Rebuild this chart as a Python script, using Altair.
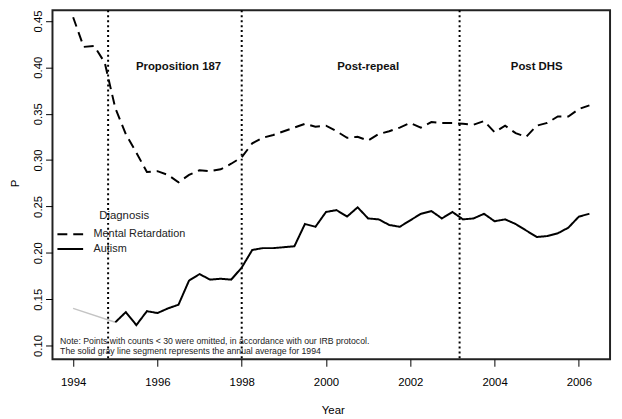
import altair as alt
import pandas as pd

# ---- data ----
mr_years = [1994.00, 1994.25, 1994.50, 1994.75, 1995.00, 1995.25, 1995.50, 1995.75,
            1996.00, 1996.25, 1996.50, 1996.75, 1997.00, 1997.25, 1997.50, 1997.75,
            1998.00, 1998.25, 1998.50, 1998.75, 1999.00, 1999.25, 1999.50, 1999.75,
            2000.00, 2000.25, 2000.50, 2000.75, 2001.00, 2001.25, 2001.50, 2001.75,
            2002.00, 2002.25, 2002.50, 2002.75, 2003.00, 2003.25, 2003.50, 2003.75,
            2004.00, 2004.25, 2004.50, 2004.75, 2005.00, 2005.25, 2005.50, 2005.75,
            2006.00, 2006.25]
mr_values = [0.454, 0.422, 0.423, 0.405, 0.356, 0.328, 0.308, 0.287,
             0.288, 0.284, 0.276, 0.284, 0.289, 0.288, 0.290, 0.296,
             0.303, 0.318, 0.324, 0.327, 0.331, 0.335, 0.339, 0.336,
             0.337, 0.331, 0.324, 0.325, 0.321, 0.328, 0.331, 0.335,
             0.340, 0.335, 0.341, 0.340, 0.340, 0.339, 0.338, 0.342,
             0.330, 0.337, 0.329, 0.325, 0.337, 0.340, 0.347, 0.347,
             0.355, 0.359]

aut_years = [1995.00, 1995.25, 1995.50, 1995.75,
             1996.00, 1996.25, 1996.50, 1996.75, 1997.00, 1997.25, 1997.50, 1997.75,
             1998.00, 1998.25, 1998.50, 1998.75, 1999.00, 1999.25, 1999.50, 1999.75,
             2000.00, 2000.25, 2000.50, 2000.75, 2001.00, 2001.25, 2001.50, 2001.75,
             2002.00, 2002.25, 2002.50, 2002.75, 2003.00, 2003.25, 2003.50, 2003.75,
             2004.00, 2004.25, 2004.50, 2004.75, 2005.00, 2005.25, 2005.50, 2005.75,
             2006.00, 2006.25]
aut_values = [0.125, 0.136, 0.122, 0.137,
              0.135, 0.140, 0.144, 0.170, 0.177, 0.171, 0.172, 0.171,
              0.184, 0.203, 0.205, 0.205, 0.206, 0.207, 0.231, 0.228,
              0.244, 0.246, 0.239, 0.249, 0.237, 0.236, 0.230, 0.228,
              0.235, 0.242, 0.245, 0.237, 0.244, 0.236, 0.237, 0.242,
              0.234, 0.236, 0.231, 0.224, 0.217, 0.218, 0.221, 0.227,
              0.239, 0.242]

gray_years = [1994.0, 1995.0]
gray_values = [0.140, 0.125]

event_years = [1994.83, 1998.0, 2003.17]

period_labels = ["Proposition 187", "Post-repeal", "Post DHS"]
period_x = [1996.5, 2001.0, 2005.0]
period_y = [0.40, 0.40, 0.40]

note_lines = ["Note: Points with counts < 30 were omitted, in accordance with our IRB protocol.",
              "The solid gray line segment represents the annual average for 1994"]
note_x = [1993.69, 1993.69]
note_y = [0.1046, 0.0944]

diagnoses = ["Mental Retardation", "Autism"]
x_ticks = [1994, 1996, 1998, 2000, 2002, 2004, 2006]
y_ticks = [0.10, 0.15, 0.20, 0.25, 0.30, 0.35, 0.40, 0.45]

# ---- tables ----
lines_df = pd.concat([
    pd.DataFrame({"year": mr_years, "P": mr_values, "Diagnosis": diagnoses[0]}),
    pd.DataFrame({"year": aut_years, "P": aut_values, "Diagnosis": diagnoses[1]}),
])
gray_df = pd.DataFrame({"year": gray_years, "P": gray_values})
events_df = pd.DataFrame({"year": event_years})
periods_df = pd.DataFrame({"year": period_x, "P": period_y, "label": period_labels})
note_df = pd.DataFrame({"year": note_x, "P": note_y, "text": note_lines})

FONT = "Liberation Sans"
xscale = alt.Scale(domain=[1993.51, 2006.74], nice=False, zero=False)
yscale = alt.Scale(domain=[0.0851, 0.4614], nice=False, zero=False)

x_axis = alt.Axis(values=x_ticks, format="d", title="Year",
                  tickSize=7, labelPadding=19, labelBaseline="alphabetic",
                  titleX=283.5, titleY=55, titleAlign="center",
                  titleBaseline="alphabetic", titleAnchor="start")
y_axis = alt.Axis(values=y_ticks, format=".2f", title="P",
                  tickSize=7, labelPadding=4, labelAngle=270,
                  labelAlign="center", labelBaseline="alphabetic",
                  titleAngle=270, titleX=-34, titleY=174.5,
                  titleAlign="center", titleBaseline="alphabetic",
                  titleAnchor="start")

X = alt.X("year:Q", scale=xscale, axis=x_axis, title="Year")
Y = alt.Y("P:Q", scale=yscale, axis=y_axis, title="P")

lines = alt.Chart(lines_df).mark_line(color="black", strokeWidth=2).encode(
    x=X, y=Y,
    strokeDash=alt.StrokeDash(
        "Diagnosis:N",
        scale=alt.Scale(domain=diagnoses, range=[[10, 6], [1, 0]]),
        legend=alt.Legend(title="Diagnosis", orient="none", legendX=10.5, legendY=202.4,
                          padding=0, titleAnchor="middle", titlePadding=5,
                          titleFont=FONT, titleFontSize=11.5, titleFontWeight="normal",
                          titleColor="#222", labelFont=FONT, labelFontSize=11,
                          labelColor="#222", labelOffset=16, rowPadding=2,
                          symbolType="M-2,0L2,0", symbolSize=169,
                          symbolStrokeWidth=2, symbolStrokeColor="black"),
    ),
    order=alt.Order("year:Q"),
)

gray = alt.Chart(gray_df).mark_line(color="#c4c4c4", strokeWidth=1.5).encode(x=X, y=Y)

events = alt.Chart(events_df).mark_rule(color="black", strokeWidth=2,
                                        strokeDash=[2, 3]).encode(x=X)

periods = alt.Chart(periods_df).mark_text(font=FONT, fontSize=11.5, fontWeight="bold",
                                          color="#111", align="center",
                                          baseline="middle").encode(
    x=X, y=Y, text="label:N",
)

note = alt.Chart(note_df).mark_text(font=FONT, fontSize=8.8, color="#222",
                                    align="left", baseline="middle").encode(
    x=X, y=Y, text="text:N",
)

chart = alt.layer(events, gray, lines, periods, note).properties(
    width=564, height=353,
    autosize=alt.AutoSizeParams(type="none"),
    padding={"left": 45, "top": 0, "right": 4, "bottom": 58},
).configure(font=FONT).configure_view(
    stroke="#222", strokeWidth=2
).configure_axis(
    domain=False, grid=False, tickColor="black", tickWidth=1,
    labelColor="black", titleColor="black", labelFont=FONT, titleFont=FONT,
    labelFontSize=11.5, titleFontSize=11.5, titleFontWeight="normal",
)

chart.save("out.html", embed_options={"renderer": "svg", "actions": False})
